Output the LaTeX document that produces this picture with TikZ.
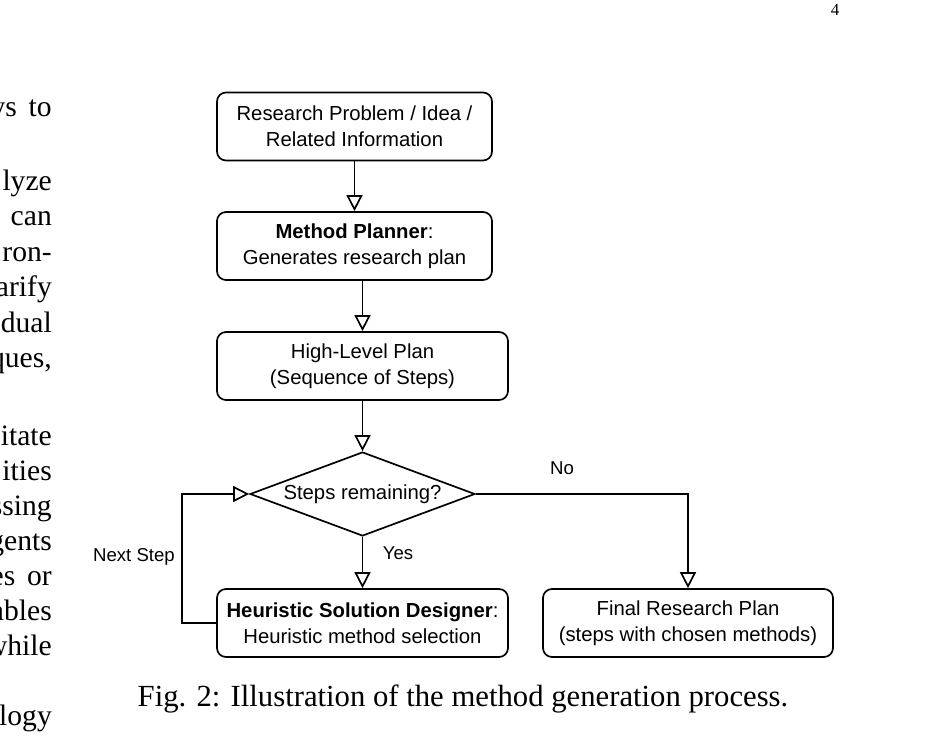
\documentclass[tikz,border=0pt]{standalone}
\usepackage{fontspec}
\setmainfont{Liberation Serif}
\newfontfamily\diagfont{Liberation Sans}
\usetikzlibrary{arrows.meta,shapes.geometric}
\tikzset{
  box/.style={draw, line width=1.7pt, rounded corners=9pt, minimum height=68pt,
    inner sep=0pt, align=center, font=\diagfont\fontsize{20.3}{26}\selectfont},
  decide/.style={draw, line width=1.7pt, diamond, shape aspect=2.68, inner sep=0pt,
    minimum width=225pt, minimum height=84pt, font=\diagfont\fontsize{20.3}{24}\selectfont},
  arr/.style={line width=1.7pt, -{Triangle[open, length=16pt, width=16pt, line width=1.7pt]}},
  lbl/.style={font=\diagfont\fontsize{18.6}{22}\selectfont, inner sep=0pt},
  body/.style={font=\fontsize{29.6}{35.5}\selectfont, inner sep=0pt, anchor=base east},
}
\begin{document}
\begin{tikzpicture}[x=1pt, y=-1pt]
\useasboundingbox (0,0) rectangle (927,752);

% page number
\node[font=\fontsize{17}{20}\selectfont, inner sep=0pt, anchor=base] (pg) at (835,16) {4};

% left column fragments
\node[body] (t1) at (52,117) {ys\hspace{0.4em}to};
\node[body] (t2) at (52,190) {lyze};
\node[body] (t3) at (52,225.5) {can};
\node[body] (t4) at (52,261) {ron-};
\node[body] (t5) at (52,296.5) {arify};
\node[body] (t6) at (52,332) {dual};
\node[body] (t7) at (52,367.5) {ques,};
\node[body] (t8) at (52,445) {itate};
\node[body] (t9) at (52,480) {ities};
\node[body] (t10) at (52,515) {ssing};
\node[body] (t11) at (52,550) {gents};
\node[body] (t12) at (52,585) {es\hspace{0.4em}or};
\node[body] (t13) at (52,620) {ables};
\node[body] (t14) at (52,655) {while};
\node[body] (t15) at (52,725) {logy};

% flowchart
\node[box, minimum width=275pt] (b1) at (354.5,126.5) {Research Problem / Idea /\\Related Information};
\node[box, minimum width=275pt] (b2) at (354.5,246) {\textbf{Method Planner}:\\Generates research plan};
\node[box, minimum width=291pt] (b3) at (362.5,366) {High-Level Plan\\(Sequence of Steps)};
\node[decide] (d) at (362.5,494) {Steps remaining?};
\node[box, minimum width=291pt] (hsd) at (362.5,623) {\textbf{Heuristic Solution Designer}:\\Heuristic method selection};
\node[box, minimum width=290pt] (fin) at (688,623) {Final Research Plan\\(steps with chosen methods)};

\draw[arr] (b1) -- (b2);
\draw[arr] (b2.south -| b3.north) -- (b3.north);
\draw[arr] (b3) -- (d);
\draw[arr] (d) -- (hsd);
\draw[arr] (d.east) -- (fin.north |- d.east) -- (fin.north);
\draw[arr] (hsd.west) -- ++(-34,0) |- (d.west);

\node[lbl] (yes) at (398,553) {Yes};
\node[lbl] (no) at (562,468) {No};
\node[lbl] (next) at (134,557) {Next Step};

% caption
\node[font=\fontsize{30.7}{36}\selectfont, inner sep=0pt, anchor=base] (cap) at (463,706) {Fig. 2: Illustration of the method generation process.};
\end{tikzpicture}
\end{document}
